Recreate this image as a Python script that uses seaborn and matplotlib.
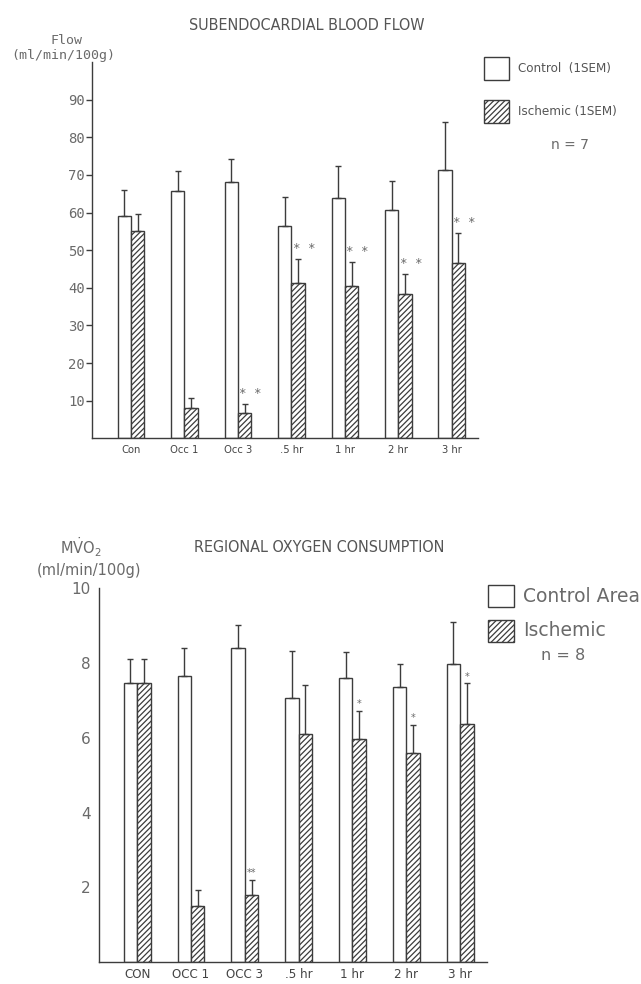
import numpy as np
import pandas as pd
import matplotlib
matplotlib.use("Agg")
import matplotlib.pyplot as plt
import seaborn as sns

# ---- Subendocardial blood flow (ml/min/100g), mean and 1 SEM ----
flow_labels = ["Con", "Occ 1", "Occ 3", ".5 hr", "1 hr", "2 hr", "3 hr"]
flow_control = [59.1, 65.8, 68.1, 56.4, 63.9, 60.7, 71.4]
flow_control_sem = [7.0, 5.3, 6.1, 7.8, 8.5, 7.8, 12.7]
flow_ischemic = [55.0, 8.1, 6.6, 41.4, 40.5, 38.3, 46.5]
flow_ischemic_sem = [4.6, 2.7, 2.5, 6.3, 6.3, 5.3, 8.1]
flow_marks = ["", "", "* *", "* *", "* *", "* *", "* *"]

# ---- Regional oxygen consumption (ml/min/100g), mean and 1 SEM ----
mvo2_labels = ["CON", "OCC 1", "OCC 3", ".5 hr", "1 hr", "2 hr", "3 hr"]
mvo2_control = [7.45, 7.64, 8.41, 7.05, 7.60, 7.36, 7.98]
mvo2_control_sem = [0.65, 0.77, 0.60, 1.27, 0.69, 0.60, 1.10]
mvo2_ischemic = [7.47, 1.51, 1.80, 6.10, 5.97, 5.60, 6.36]
mvo2_ischemic_sem = [0.63, 0.41, 0.40, 1.30, 0.74, 0.74, 1.09]
mvo2_marks = ["", "", "**", "", "*", "*", "*"]

sns.set_theme(style="white")
plt.rcParams["font.family"] = ["DejaVu Sans"]
plt.rcParams["hatch.color"] = "#4a4a4a"
plt.rcParams["hatch.linewidth"] = 0.9

INK = "#3c3c3c"
TXT = "#6a6a6a"
NARROW = dict(family="DejaVu Sans", stretch="condensed")
MONO = ["DejaVu Sans Mono"]

fig = plt.figure(figsize=(6.41, 9.84), dpi=100)
W, H = 641.0, 984.0


def px_axes(left, top, right, bottom):
    return fig.add_axes([left / W, 1 - bottom / H, (right - left) / W, (bottom - top) / H])


def draw_panel(ax, labels, ctrl, ctrl_sem, isch, isch_sem):
    df = pd.DataFrame({
        "cond": labels * 2,
        "val": list(ctrl) + list(isch),
        "grp": ["Control"] * len(labels) + ["Ischemic"] * len(labels),
    })
    sns.barplot(data=df, x="cond", y="val", hue="grp", order=labels,
                hue_order=["Control", "Ischemic"], palette=["white", "white"],
                width=0.5, errorbar=None, edgecolor=INK, linewidth=1.0,
                legend=False, ax=ax)
    for cont, sem in zip(ax.containers[:2], [ctrl_sem, isch_sem]):
        xs = [p.get_x() + p.get_width() / 2 for p in cont.patches]
        ys = [p.get_height() for p in cont.patches]
        ax.errorbar(xs, ys, yerr=[np.zeros(len(sem)), sem], fmt="none",
                    ecolor=INK, elinewidth=1.0, capsize=2.2, capthick=1.0)
    for p in ax.containers[1].patches:
        p.set_hatch("//////")
    ax.set_xlabel("")
    ax.set_ylabel("")
    for s in ["top", "right"]:
        ax.spines[s].set_visible(False)
    for s in ["left", "bottom"]:
        ax.spines[s].set_color(INK)
        ax.spines[s].set_linewidth(1.0)
    ax.set_facecolor("none")
    return ax.containers[1]


# ================= top panel =================
ax1 = px_axes(92, 62, 478, 438.3)
isch_bars = draw_panel(ax1, flow_labels, flow_control, flow_control_sem,
                       flow_ischemic, flow_ischemic_sem)
ax1.set_xlim(-0.73, 6.49)
ax1.set_ylim(0, 100)
ax1.set_yticks(np.arange(10, 100, 10))
ax1.set_yticklabels([str(v) for v in range(10, 100, 10)],
                    family=MONO, fontsize=10, color=TXT)
ax1.tick_params(axis="y", direction="out", length=4, width=1.0, color=INK, pad=1, left=True)
ax1.tick_params(axis="x", length=0, pad=5)
for t in ax1.get_xticklabels():
    t.set_family("DejaVu Sans")
    t.set_stretch("condensed")
    t.set_fontsize(8)
    t.set_color("#444444")
for p, m, sem in zip(isch_bars.patches, flow_marks, flow_ischemic_sem):
    if m:
        ax1.text(p.get_x() + p.get_width() * 0.95, p.get_height() + sem + 1.0, m,
                 ha="center", va="bottom", fontsize=9, color=TXT, family=MONO)

fig.text(307 / W, 1 - 25 / H, "SUBENDOCARDIAL BLOOD FLOW", ha="center", va="center",
         fontsize=11.5, color="#555555", **NARROW)
fig.text(66 / W, 1 - 41 / H, "Flow", ha="center", va="center",
         family=MONO, fontsize=9.5, color=TXT)
fig.text(63 / W, 1 - 55 / H, "(ml/min/100g)", ha="center", va="center",
         family=MONO, fontsize=9.5, color=TXT)

# top legend
leg_boxes = [(57, 80, ""), (100, 123, "//////")]
for (t, b, h), lab in zip(leg_boxes, ["Control  (1SEM)", "Ischemic (1SEM)"]):
    fig.patches.append(plt.Rectangle((484 / W, 1 - b / H), 25 / W, (b - t) / H,
                                     transform=fig.transFigure, facecolor="white",
                                     edgecolor=INK, linewidth=1.0, hatch=h))
    fig.text(518 / W, 1 - (t + b) / 2 / H, lab, ha="left", va="center",
             fontsize=9.5, color="#555555", **NARROW)
fig.text(570 / W, 1 - 145 / H, "n = 7", ha="center", va="center",
         fontsize=10, color=TXT)

# ================= bottom panel =================
ax2 = px_axes(99, 588, 487, 962.3)
isch_bars2 = draw_panel(ax2, mvo2_labels, mvo2_control, mvo2_control_sem,
                        mvo2_ischemic, mvo2_ischemic_sem)
ax2.set_xlim(-0.71, 6.5)
ax2.set_ylim(0, 10)
ax2.set_yticks([2, 4, 6, 8, 10])
ax2.set_yticklabels(["2", "4", "6", "8", "10"], fontsize=11, color=TXT)
ax2.tick_params(axis="y", which="major", length=0, pad=6)
ax2.set_yticks([10], minor=True)
ax2.tick_params(axis="y", which="minor", direction="in", length=4, width=1.0,
                color=INK, left=True)
ax2.tick_params(axis="x", length=0, pad=4)
for t in ax2.get_xticklabels():
    t.set_family("DejaVu Sans")
    t.set_stretch("condensed")
    t.set_fontsize(9.5)
    t.set_color("#444444")
for p, m, sem in zip(isch_bars2.patches, mvo2_marks, mvo2_ischemic_sem):
    if m:
        ax2.text(p.get_x() + p.get_width() * 0.5, p.get_height() + sem + 0.05, m,
                 ha="center", va="bottom", fontsize=7, color=TXT)

fig.text(319 / W, 1 - 547 / H, "REGIONAL OXYGEN CONSUMPTION", ha="center", va="center",
         fontsize=11.5, color="#555555", **NARROW)
fig.text(81 / W, 1 - 547 / H, r"M$\dot{\mathrm{V}}$O$_2$", ha="center", va="center",
         fontsize=10.5, color=TXT)
fig.text(89 / W, 1 - 571 / H, "(ml/min/100g)", ha="center", va="center",
         fontsize=10.5, color=TXT)

leg_boxes2 = [(585, 607, ""), (620, 642, "//////")]
for (t, b, h), lab in zip(leg_boxes2, ["Control Area", "Ischemic"]):
    fig.patches.append(plt.Rectangle((488 / W, 1 - b / H), 26 / W, (b - t) / H,
                                     transform=fig.transFigure, facecolor="white",
                                     edgecolor=INK, linewidth=1.0, hatch=h))
    fig.text(523 / W, 1 - (t + b) / 2 / H, lab, ha="left", va="center",
             fontsize=13.5, color=TXT)
fig.text(563 / W, 1 - 655 / H, "n = 8", ha="center", va="center",
         fontsize=11.5, color=TXT)

fig.savefig("out.png", dpi=100, facecolor="white")
